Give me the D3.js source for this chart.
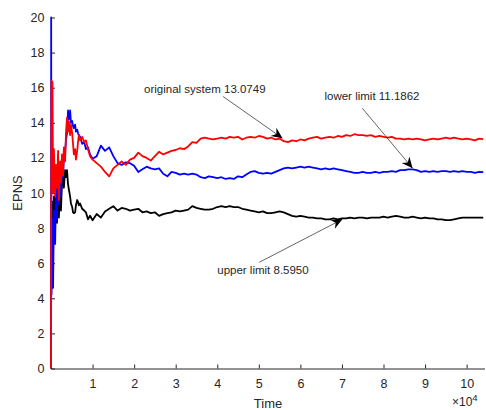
<!DOCTYPE html>
<html>
<head>
<meta charset="utf-8">
<script src="https://cdn.jsdelivr.net/npm/d3@7"></script>
<style>
  body { margin: 0; background: #fff; }
  svg { display: block; }
  text { font-family: "Liberation Sans", Arial, sans-serif; fill: #262626; }
</style>
</head>
<body>
<script>
// Time is in units of 1e4 (axis shows x10^4)
var earlyTime = [0, 0.004, 0.012, 0.036, 0.05, 0.07, 0.1, 0.12, 0.145, 0.17, 0.19, 0.22, 0.24, 0.265, 0.29,
    0.31, 0.34, 0.36, 0.385, 0.41, 0.43, 0.46, 0.48, 0.51, 0.53, 0.55, 0.58, 0.6, 0.63, 0.65, 0.67, 0.7,
    0.75, 0.8, 0.84, 0.89, 0.94];

var lateTime = [1.0, 1.1, 1.2, 1.3, 1.4, 1.5, 1.6, 1.7, 1.8, 1.9,
    2.0, 2.1, 2.2, 2.3, 2.4, 2.5, 2.6, 2.7, 2.8, 2.9,
    3.0, 3.1, 3.2, 3.3, 3.4, 3.5, 3.6, 3.7, 3.8, 3.9,
    4.0, 4.1, 4.2, 4.3, 4.4, 4.5, 4.6, 4.7, 4.8, 4.9,
    5.0, 5.1, 5.2, 5.3, 5.4, 5.5, 5.6, 5.7, 5.8, 5.9,
    6.0, 6.1, 6.2, 6.3, 6.4, 6.5, 6.6, 6.7, 6.8, 6.9,
    7.0, 7.1, 7.2, 7.3, 7.4, 7.5, 7.6, 7.7, 7.8, 7.9,
    8.0, 8.1, 8.2, 8.3, 8.4, 8.5, 8.6, 8.7, 8.8, 8.9,
    9.0, 9.1, 9.2, 9.3, 9.4, 9.5, 9.6, 9.7, 9.8, 9.9,
    10.0, 10.1, 10.2, 10.3, 10.4];

// original system (red)
var redEarly = [0, 8.5, 16.4, 16.3, 10.0, 12.5, 9.8, 11.6, 10.3, 12.4, 9.6, 11.8, 10.6, 12.2, 11.0,
    12.6, 11.8, 13.4, 14.3, 13.5, 14.1, 13.3, 13.9, 13.4, 12.8, 12.2, 12.5, 11.9, 12.4, 12.9, 13.3, 13.0,
    13.2, 12.9, 13.0, 12.5, 12.1];
var redLate = [11.9, 11.7, 11.5, 11.2, 10.95, 11.4, 11.6, 11.8, 11.6, 11.9,
    12.0, 12.3, 12.1, 12.0, 11.85, 12.1, 12.35, 12.2, 12.3, 12.4,
    12.45, 12.55, 12.5, 12.65, 12.9, 12.85, 13.1, 13.15, 13.1, 13.05,
    13.1, 13.15, 13.1, 13.2, 13.15, 13.2, 13.05, 13.15, 13.2, 13.15,
    13.25, 13.2, 13.1, 13.15, 13.05, 13.1, 12.95, 12.9, 13.0, 12.95,
    13.05, 13.0, 13.1, 13.15, 13.2, 13.1, 13.15, 13.2, 13.15, 13.25,
    13.2, 13.3, 13.25, 13.35, 13.3, 13.3, 13.25, 13.3, 13.2, 13.25,
    13.2, 13.15, 13.2, 13.1, 13.1, 13.05, 13.1, 13.05, 13.1, 13.05,
    13.0, 13.05, 13.1, 13.05, 13.1, 13.15, 13.1, 13.15, 13.1, 13.05,
    13.1, 13.05, 13.0, 13.1, 13.07];

// lower limit (blue)
var blueEarly = [0, 20, 4.2, 8.5, 4.6, 9.0, 7.1, 10.5, 8.5, 11.3, 9.4, 10.8, 9.8, 11.5, 10.9,
    12.0, 12.3, 13.0, 13.4, 14.7, 14.2, 14.7, 14.0, 14.1, 13.8, 13.7, 13.9, 13.5, 13.6, 13.4, 13.3, 13.2,
    12.8, 12.9, 12.5, 12.6, 12.2];
var blueLate = [11.95, 12.1, 12.7, 12.4, 12.6, 12.1, 11.7, 11.6, 11.75, 11.7,
    11.55, 11.2, 11.35, 11.5, 11.4, 11.35, 11.4, 11.1, 10.95, 11.2,
    11.15, 11.05, 11.1, 11.05, 11.1, 11.05, 10.9, 10.85, 10.95, 10.9,
    10.85, 10.9, 10.8, 10.85, 10.8, 10.95, 10.9, 11.05, 11.2, 11.25,
    11.15, 11.1, 11.15, 11.1, 11.2, 11.3, 11.4, 11.45, 11.4, 11.45,
    11.5, 11.45, 11.5, 11.45, 11.4, 11.35, 11.4, 11.35, 11.4, 11.35,
    11.3, 11.25, 11.2, 11.15, 11.15, 11.2, 11.15, 11.15, 11.2, 11.15,
    11.2, 11.2, 11.25, 11.2, 11.3, 11.3, 11.35, 11.35, 11.3, 11.2,
    11.25, 11.2, 11.25, 11.2, 11.25, 11.25, 11.2, 11.25, 11.2, 11.25,
    11.2, 11.2, 11.15, 11.2, 11.19];

// upper limit (black)
var blackEarly = [0, 4.0, 7.5, 9.5, 6.5, 9.8, 8.0, 10.5, 8.3, 10.2, 8.6, 10.8, 9.0, 10.6, 11.0,
    10.3, 11.3, 10.9, 11.3, 10.5, 10.2, 9.8, 9.4, 9.2, 8.9, 8.85, 8.9, 9.3, 9.6, 9.5, 9.3, 9.4,
    9.1, 9.0, 8.9, 8.5, 8.7];
var blackLate = [8.45, 8.8, 8.6, 8.95, 9.1, 9.25, 9.0, 9.15, 9.1, 9.0,
    9.05, 9.1, 8.9, 8.95, 8.85, 8.9, 8.7, 8.8, 8.85, 8.9,
    9.0, 8.95, 9.0, 9.05, 9.25, 9.15, 9.1, 9.05, 9.05, 9.1,
    9.2, 9.25, 9.2, 9.25, 9.2, 9.2, 9.1, 9.05, 9.0, 8.95,
    8.9, 8.95, 8.85, 8.85, 8.9, 8.95, 8.9, 8.8, 8.7, 8.65,
    8.7, 8.65, 8.6, 8.6, 8.55, 8.55, 8.5, 8.5, 8.55, 8.5,
    8.55, 8.55, 8.6, 8.55, 8.6, 8.6, 8.55, 8.6, 8.6, 8.6,
    8.65, 8.6, 8.65, 8.7, 8.65, 8.6, 8.6, 8.65, 8.6, 8.55,
    8.6, 8.55, 8.55, 8.5, 8.5, 8.45, 8.45, 8.5, 8.55, 8.6,
    8.6, 8.6, 8.6, 8.6, 8.6];

var xTicks = [1, 2, 3, 4, 5, 6, 7, 8, 9, 10];
var yTicks = [0, 2, 4, 6, 8, 10, 12, 14, 16, 18, 20];

// Annotations (text anchor, arrow tail, arrow tip) in data units
var notes = [
    { label: "original system 13.0749", at: [2.24, 15.9], tail: [4.14, 15.5], tip: [5.57, 13.12] },
    { label: "lower limit 11.1862", at: [6.58, 15.52], tail: [7.49, 14.83], tip: [8.70, 11.41] },
    { label: "upper limit 8.5950", at: [4.0, 5.59], tail: [5.01, 6.05], tip: [7.01, 8.5] }
];

// SVG size and margins
var svgWidth = 486;
var svgHeight = 410;
var margin = { top: 17.5, bottom: 41.5, left: 51, right: 1.5 };

var svg = d3.select("body")
    .append("svg")
    .attr("width", svgWidth)
    .attr("height", svgHeight);

var xScale = d3.scaleLinear()
    .domain([0, 10.43])
    .range([margin.left, svgWidth - margin.right]);

var yScale = d3.scaleLinear()
    .domain([0, 20])
    .range([svgHeight - margin.bottom, margin.top]);

// Axes (ticks point inward, MATLAB style)
var xAxis = svg.append("g")
    .attr("transform", `translate(0, ${svgHeight - margin.bottom})`)
    .call(d3.axisBottom(xScale).tickValues(xTicks).tickSizeInner(-4).tickSizeOuter(0).tickPadding(10.5));

var yAxis = svg.append("g")
    .attr("transform", `translate(${margin.left}, 0)`)
    .call(d3.axisLeft(yScale).tickValues(yTicks).tickSizeInner(-4).tickSizeOuter(0).tickPadding(6.5));

[xAxis, yAxis].forEach(function (ax) {
    ax.selectAll("path, line").attr("stroke", "#262626").attr("stroke-width", 1);
    ax.selectAll("text").attr("fill", "#262626").attr("font-size", 12.5)
        .attr("font-family", '"Liberation Sans", Arial, sans-serif');
});

// Lines
function combine(early, late) {
    var pts = early.map((v, i) => [earlyTime[i], v]);
    return pts.concat(late.map((v, i) => [lateTime[i], v]));
}

var line = d3.line()
    .x(d => xScale(d[0]))
    .y(d => yScale(d[1]));

var series = [
    { color: "#000000", pts: combine(blackEarly, blackLate) },
    { color: "#0000ff", pts: combine(blueEarly, blueLate) },
    { color: "#ff0000", pts: combine(redEarly, redLate) }
];

svg.selectAll(".series")
    .data(series)
    .enter()
    .append("path")
    .attr("class", "series")
    .attr("d", d => line(d.pts))
    .attr("fill", "none")
    .attr("stroke", d => d.color)
    .attr("stroke-width", 1.8)
    .attr("stroke-linejoin", "round");

// Annotations with arrows
function arrowHead(x1, y1, x2, y2) {
    var dx = x2 - x1, dy = y2 - y1;
    var len = Math.sqrt(dx * dx + dy * dy);
    var ux = dx / len, uy = dy / len;
    var nx = -uy, ny = ux;
    var L = 11, W = 5, notch = 3.5;
    var bx = x2 - ux * L, by = y2 - uy * L;
    var cx = x2 - ux * (L - notch), cy = y2 - uy * (L - notch);
    return `M${x2},${y2}L${bx + nx * W},${by + ny * W}L${cx},${cy}L${bx - nx * W},${by - ny * W}Z`;
}

notes.forEach(function (n) {
    var x1 = xScale(n.tail[0]), y1 = yScale(n.tail[1]);
    var x2 = xScale(n.tip[0]), y2 = yScale(n.tip[1]);
    svg.append("line")
        .attr("x1", x1).attr("y1", y1)
        .attr("x2", x2).attr("y2", y2)
        .attr("stroke", "#222")
        .attr("stroke-width", 0.7);
    svg.append("path")
        .attr("d", arrowHead(x1, y1, x2, y2))
        .attr("fill", "#000");
    svg.append("text")
        .attr("x", xScale(n.at[0]))
        .attr("y", yScale(n.at[1]))
        .attr("dy", "0.35em")
        .attr("font-size", 11.5)
        .attr("fill", "#000")
        .text(n.label);
});

// Axis labels
svg.append("text")
    .attr("x", 268)
    .attr("y", 407.5)
    .attr("text-anchor", "middle")
    .attr("font-size", 13)
    .text("Time");

svg.append("text")
    .attr("transform", "translate(22, 193) rotate(-90)")
    .attr("text-anchor", "middle")
    .attr("font-size", 13)
    .text("EPNS");

// exponent label, kept just inside the bottom edge
var expLabel = svg.append("text")
    .attr("x", 452)
    .attr("y", 406)
    .attr("font-size", 12);
expLabel.append("tspan").text("\u00d710");
expLabel.append("tspan").attr("dy", -5).attr("font-size", 9.5).text("4");
</script>
</body>
</html>
